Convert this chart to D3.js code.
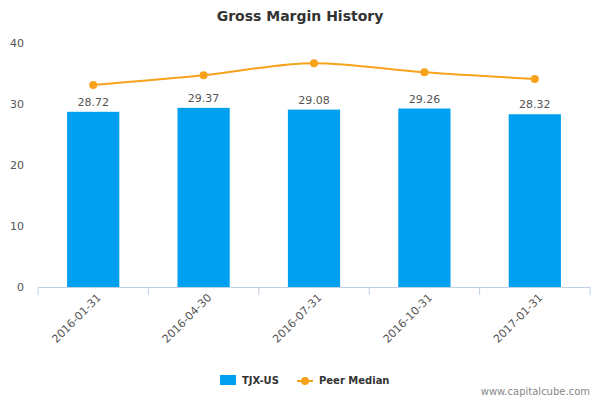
<!DOCTYPE html>
<html><head><meta charset="utf-8">
<script src="https://cdn.jsdelivr.net/npm/d3@7"></script>
<style>body{margin:0;background:#fff}text{font-family:"DejaVu Sans",sans-serif}</style>
</head><body><svg id="c" width="600" height="400"></svg>
<script>
const categories=["2016-01-31","2016-04-30","2016-07-31","2016-10-31","2017-01-31"];
const tjx=[28.72,29.37,29.08,29.26,28.32];
const peer=[33.1,34.7,36.7,35.2,34.1];
const yTicks=[0,10,20,30,40];
const svg=d3.select("#c");
const m={l:38,r:590,t:43,b:287};
const x=d3.scaleBand().domain(categories).range([m.l,m.r]).paddingInner(0.527).paddingOuter(0.2635);
const y=d3.scaleLinear().domain([0,40]).range([m.b,m.t]);
svg.append("text").attr("x",300).attr("y",21).attr("text-anchor","middle").attr("font-size",14).attr("font-weight","bold").attr("fill","#333").text("Gross Margin History");
const ya=svg.append("g").attr("transform",`translate(${m.l-14},0)`).call(d3.axisLeft(y).tickValues(yTicks).tickSize(0).tickPadding(0));
ya.select(".domain").remove();
ya.selectAll("text").attr("font-size",11).attr("fill","#555");
const xa=svg.append("g").attr("transform",`translate(0,${m.b})`).call(d3.axisBottom(x).tickSize(0).tickPadding(10));
xa.select(".domain").attr("stroke","#c0d0e0");
const step=x.step();
xa.selectAll(".bnd").data(categories.concat(["_end"])).enter().append("line")
 .attr("x1",(d,i)=>m.l+i*step).attr("x2",(d,i)=>m.l+i*step).attr("y1",0).attr("y2",8).attr("stroke","#c0d0e0");
xa.selectAll(".tick text").attr("font-size",11).attr("fill","#555").attr("text-anchor","end")
 .attr("transform","rotate(-45)").attr("dx","-2").attr("dy","4");
svg.selectAll(".bar").data(tjx).enter().append("rect")
 .attr("x",(d,i)=>x(categories[i])).attr("width",x.bandwidth()).attr("y",d=>y(d)).attr("height",d=>y(0)-y(d)).attr("fill","#00a0f0");
svg.selectAll(".bl").data(tjx).enter().append("text")
 .attr("x",(d,i)=>x(categories[i])+x.bandwidth()/2).attr("y",d=>y(d)-6).attr("text-anchor","middle").attr("font-size",11).attr("fill","#555").text(d=>d.toFixed(2));
const cx=(d,i)=>x(categories[i])+x.bandwidth()/2;
svg.append("path").datum(peer).attr("fill","none").attr("stroke","#f7a21b").attr("stroke-width",2)
 .attr("d",d3.line().x(cx).y(d=>y(d)).curve(d3.curveMonotoneX));
svg.selectAll(".pt").data(peer).enter().append("circle").attr("cx",cx).attr("cy",d=>y(d)).attr("r",4).attr("fill","#f7a21b");
const lg=svg.append("g");
lg.append("rect").attr("x",220).attr("y",375).attr("width",16).attr("height",10).attr("fill","#00a0f0");
lg.append("text").attr("x",242).attr("y",384).attr("font-size",10).attr("font-weight","bold").attr("fill","#333").text("TJX-US");
lg.append("line").attr("x1",297).attr("x2",313).attr("y1",381).attr("y2",381).attr("stroke","#f7a21b").attr("stroke-width",2);
lg.append("circle").attr("cx",305).attr("cy",381).attr("r",4).attr("fill","#f7a21b");
lg.append("text").attr("x",319).attr("y",384).attr("font-size",10).attr("font-weight","bold").attr("fill","#333").text("Peer Median");
svg.append("text").attr("x",590).attr("y",395).attr("text-anchor","end").attr("font-size",10).attr("fill","#888").text("www.capitalcube.com");
</script></body></html>
